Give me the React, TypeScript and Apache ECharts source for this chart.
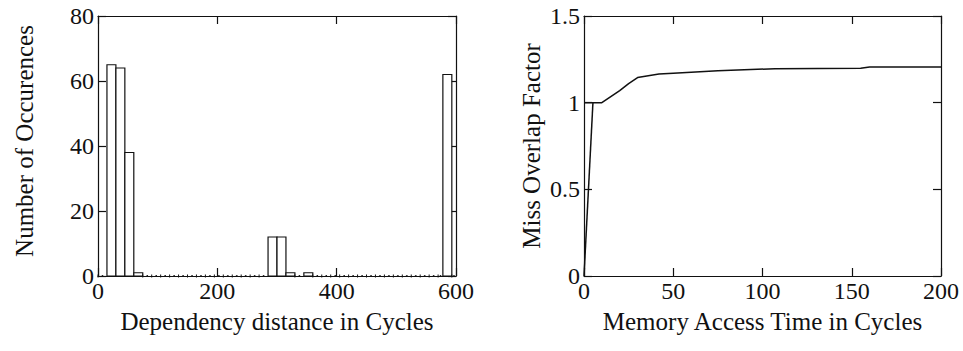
import React, { useEffect, useRef } from "react";
import * as echarts from "echarts";

// Left: histogram of dependency distances (bin edges in cycles, counts per bin)
const binEdges = [
  0, 15, 30, 45, 60, 75, 90, 105, 120, 135, 150, 165, 180, 195, 210, 225, 240,
  255, 270, 285, 300, 315, 330, 345, 360, 375, 390, 405, 420, 435, 450, 465, 480,
  495, 510, 525, 540, 555, 570, 578, 593, 600,
];
const counts = [
  0, 65, 64, 38, 1,
  0, 0, 0, 0, 0, 0, 0, 0, 0, 0, 0, 0, 0, 0,
  12, 12, 1, 0, 1,
  0, 0, 0, 0, 0, 0, 0, 0, 0, 0, 0, 0, 0, 0,
  0, 62, 0,
];

// Right: miss overlap factor vs memory access time
const rampX = [0, 5];
const rampY = [0, 1];
const accessTime = [0, 10, 20, 25, 30, 42, 50, 75, 107, 155, 160, 200];
const overlapFactor = [1, 1, 1.07, 1.11, 1.145, 1.165, 1.17, 1.184, 1.196, 1.198, 1.206, 1.206];

const leftXTicks = [0, 200, 400, 600];
const leftYTicks = [0, 20, 40, 60, 80];
const rightXTicks = [0, 50, 100, 150, 200];
const rightYTicks = [0, 0.5, 1, 1.5];

const leftXTitle = "Dependency distance in Cycles";
const leftYTitle = "Number of Occurences";
const rightXTitle = "Memory Access Time in Cycles";
const rightYTitle = "Miss Overlap Factor";

const FONT = "Liberation Serif";
const INK = "#111";

export default function App() {
  const ref = useRef<HTMLDivElement>(null);

  useEffect(() => {
    if (!ref.current) return;
    const chart = echarts.init(ref.current, null, { renderer: "svg" });

    const histData = counts.map((c, i) => [binEdges[i], binEdges[i + 1], c]);
    const mainLine = accessTime.map((x, i) => [x, overlapFactor[i]]);
    const ramp = rampX.map((x, i) => [x, rampY[i]]);

    const axisLine = { show: true, onZero: false, lineStyle: { color: INK, width: 1.2 } };
    const tickIn = { show: true, inside: true, length: 8, lineStyle: { color: INK, width: 1.2 } };
    const label = { fontFamily: FONT, fontSize: 24, color: INK };
    const nameStyle = { fontFamily: FONT, fontSize: 25, color: INK };

    const mkX = (grid: number, ticks: number[], name: string) => [
      {
        type: "value", gridIndex: grid, position: "bottom",
        min: ticks[0], max: ticks[ticks.length - 1], interval: ticks[1] - ticks[0],
        axisLine, axisTick: tickIn, splitLine: { show: false },
        axisLabel: { ...label, margin: 3 },
        name, nameLocation: "middle", nameGap: 33, nameTextStyle: nameStyle,
      },
      {
        type: "value", gridIndex: grid, position: "top",
        min: ticks[0], max: ticks[ticks.length - 1], interval: ticks[1] - ticks[0],
        axisLine, axisTick: tickIn, splitLine: { show: false },
        axisLabel: { show: false },
      },
    ];
    const mkY = (grid: number, ticks: number[]) => [
      {
        type: "value", gridIndex: grid, position: "left",
        min: ticks[0], max: ticks[ticks.length - 1], interval: ticks[1] - ticks[0],
        axisLine, axisTick: tickIn, splitLine: { show: false },
        axisLabel: { ...label, margin: 4, padding: [8, 0, 0, 0] },
      },
      {
        type: "value", gridIndex: grid, position: "right",
        min: ticks[0], max: ticks[ticks.length - 1], interval: ticks[1] - ticks[0],
        axisLine, axisTick: tickIn, splitLine: { show: false },
        axisLabel: { show: false },
      },
    ];

    chart.setOption({
      animation: false,
      backgroundColor: "#fff",
      grid: [
        { left: 98, top: 16, width: 358, height: 260 },
        { left: 584, top: 16, width: 357, height: 260 },
      ],
      xAxis: [...mkX(0, leftXTicks, leftXTitle), ...mkX(1, rightXTicks, rightXTitle)],
      yAxis: [...mkY(0, leftYTicks), ...mkY(1, rightYTicks)],
      graphic: [
        {
          type: "text", x: 24, y: 141, rotation: Math.PI / 2,
          style: { text: leftYTitle, fontFamily: FONT, fontSize: 25, fill: INK, align: "center", verticalAlign: "middle" },
        },
        {
          type: "text", x: 531, y: 146, rotation: Math.PI / 2,
          style: { text: rightYTitle, fontFamily: FONT, fontSize: 25, fill: INK, align: "center", verticalAlign: "middle" },
        },
      ],
      series: [
        {
          type: "custom",
          xAxisIndex: 0,
          yAxisIndex: 0,
          data: histData,
          renderItem: (params: any, api: any) => {
            const x0 = api.value(0);
            const x1 = api.value(1);
            const c = api.value(2);
            const p0 = api.coord([x0, c]);
            const p1 = api.coord([x1, 0]);
            if (c > 0) {
              return {
                type: "rect",
                shape: { x: p0[0], y: p0[1], width: p1[0] - p0[0], height: p1[1] - p0[1] },
                style: { fill: "#fff", stroke: INK, lineWidth: 1.2 },
              };
            }
            return {
              type: "group",
              children: [
                {
                  type: "line",
                  shape: { x1: p0[0], y1: p1[1] - 1.5, x2: p0[0], y2: p1[1] + 1.5 },
                  style: { stroke: INK, lineWidth: 1 },
                },
                {
                  type: "circle",
                  shape: { cx: (p0[0] + p1[0]) / 2, cy: p1[1], r: 0.9 },
                  style: { fill: INK },
                },
              ],
            };
          },
          z: 1,
        },
        {
          type: "line", xAxisIndex: 2, yAxisIndex: 2, data: ramp,
          showSymbol: false, lineStyle: { color: INK, width: 1.5 },
        },
        {
          type: "line", xAxisIndex: 2, yAxisIndex: 2, data: mainLine,
          showSymbol: false, lineStyle: { color: INK, width: 1.5 },
        },
      ],
    });

    return () => chart.dispose();
  }, []);

  return (
    <div
      ref={ref}
      style={{ position: "absolute", left: 0, top: 0, width: 963, height: 351 }}
    />
  );
}
